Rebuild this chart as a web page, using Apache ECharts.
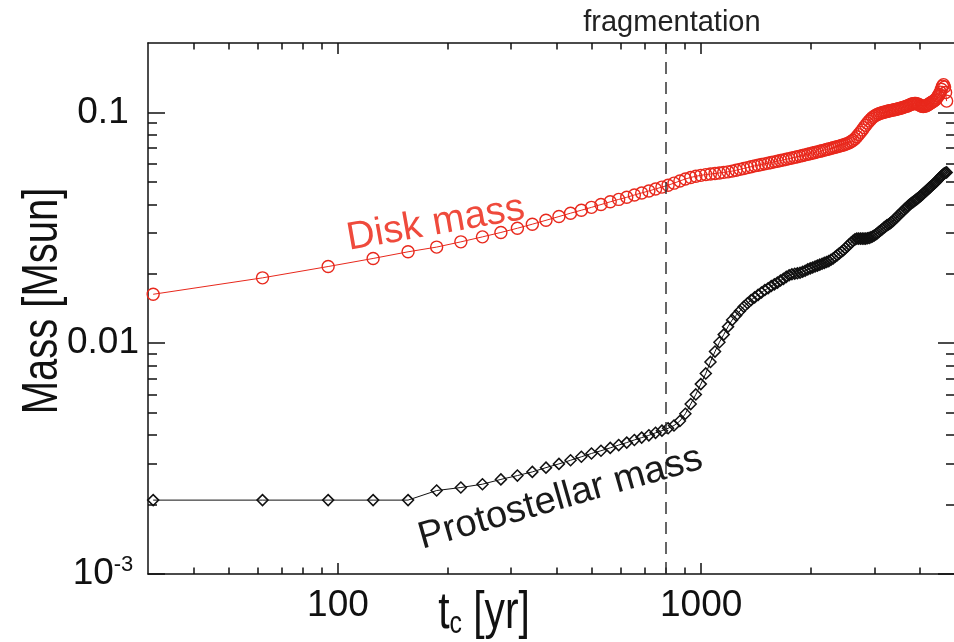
<!DOCTYPE html>
<html><head><meta charset="utf-8">
<script src="https://cdn.jsdelivr.net/npm/echarts@6/dist/echarts.min.js"></script>
<style>html,body{margin:0;padding:0;background:#fff}#c{width:954px;height:642px}</style>
</head><body><div id="c"></div>
<script>
// ---- data ----
const times = [
31,62,94,125,156,187,218,250,281,312,
343,374,406,437,468,499,530,562,593,624,
655,686,718,749,780,811,842,874,905,936,
967,998,1030,1061,1092,1123,1154,1186,1217,1248,
1279,1310,1342,1373,1404,1435,1466,1498,1529,1560,
1591,1622,1654,1685,1716,1747,1778,1810,1841,1872,
1903,1934,1966,1997,2028,2059,2090,2122,2153,2184,
2215,2246,2278,2309,2340,2371,2402,2434,2465,2496,
2527,2558,2590,2621,2652,2683,2714,2746,2777,2808,
2839,2870,2902,2933,2964,2995,3026,3058,3089,3120,
3151,3182,3214,3245,3276,3307,3338,3370,3401,3432,
3463,3494,3526,3557,3588,3619,3650,3682,3713,3744,
3775,3806,3838,3869,3900,3931,3962,3994,4025,4056,
4087,4118,4150,4181,4212,4243,4274,4306,4337,4368,
4399,4430,4462,4493,4524,4555,4586,4618,4649,4680,
4711,4742];

const diskMass = [
0.0163,0.0192,0.0215,0.0233,0.0249,0.0261,0.0275,0.0289,0.0302,0.0315,
0.0328,0.0341,0.0354,0.0366,0.0377,0.0388,0.0399,0.0410,0.0420,0.0429,
0.0439,0.0448,0.0457,0.0466,0.0475,0.0484,0.0494,0.0505,0.0515,0.0523,
0.0529,0.0534,0.0538,0.0541,0.0544,0.0547,0.0550,0.0553,0.0557,0.0562,
0.0567,0.0572,0.0577,0.0582,0.0587,0.0591,0.0595,0.0599,0.0603,0.0607,
0.0611,0.0615,0.0619,0.0623,0.0627,0.0631,0.0635,0.0639,0.0643,0.0647,
0.0651,0.0655,0.0659,0.0663,0.0667,0.0671,0.0675,0.0679,0.0683,0.0687,
0.0691,0.0695,0.0699,0.0703,0.0707,0.0711,0.0715,0.0719,0.0723,0.0728,
0.0733,0.0740,0.0748,0.0758,0.0770,0.0785,0.0802,0.0820,0.0840,0.0860,
0.0880,0.0900,0.0918,0.0935,0.0950,0.0962,0.0972,0.0980,0.0987,0.0993,
0.0998,0.1002,0.1006,0.1010,0.1014,0.1018,0.1021,0.1024,0.1027,0.1030,
0.1034,0.1038,0.1042,0.1046,0.1050,0.1055,0.1060,0.1065,0.1070,0.1076,
0.1082,0.1088,0.1092,0.1094,0.1093,0.1090,0.1085,0.1078,0.1070,0.1064,
0.1062,0.1063,0.1067,0.1073,0.1080,0.1088,0.1096,0.1104,0.1112,0.1120,
0.1130,0.1142,0.1158,0.1178,0.1200,0.1225,0.1260,0.1300,0.1320,0.1290,
0.1220,0.1120];

const protostellarMass = [
0.00209,0.00209,0.00209,0.00209,0.00209,0.00230,0.00237,0.00245,0.00257,0.00267,
0.00277,0.00289,0.00300,0.00311,0.00322,0.00333,0.00342,0.00352,0.00362,0.00371,
0.00381,0.00390,0.00399,0.00409,0.00418,0.00428,0.00440,0.00460,0.00495,0.00545,
0.00600,0.00665,0.00740,0.00830,0.00920,0.01010,0.01090,0.01180,0.01260,0.01320,
0.01380,0.01440,0.01490,0.01540,0.01580,0.01620,0.01660,0.01700,0.01730,0.01770,
0.01800,0.01830,0.01870,0.01900,0.01940,0.01970,0.01990,0.02000,0.02010,0.02020,
0.02040,0.02060,0.02090,0.02110,0.02130,0.02150,0.02170,0.02190,0.02210,0.02230,
0.02250,0.02270,0.02300,0.02330,0.02370,0.02410,0.02450,0.02490,0.02530,0.02580,
0.02630,0.02680,0.02730,0.02780,0.02820,0.02840,0.02840,0.02840,0.02840,0.02840,
0.02840,0.02850,0.02860,0.02880,0.02900,0.02930,0.02960,0.03000,0.03040,0.03080,
0.03120,0.03160,0.03200,0.03240,0.03270,0.03300,0.03340,0.03380,0.03430,0.03480,
0.03530,0.03580,0.03630,0.03680,0.03730,0.03780,0.03830,0.03880,0.03930,0.03980,
0.04020,0.04060,0.04100,0.04140,0.04180,0.04220,0.04260,0.04310,0.04350,0.04400,
0.04450,0.04500,0.04550,0.04600,0.04650,0.04700,0.04750,0.04800,0.04850,0.04900,
0.04950,0.05000,0.05060,0.05120,0.05180,0.05240,0.05300,0.05360,0.05410,0.05450,
0.05480,0.05500];

const xRange = [30, 5000];
const yRange = [0.001, 0.2];
const xMajorTicks = [100, 1000];
const xMinorTicks = [40,50,60,70,80,90,200,300,400,500,600,700,800,900,2000,3000,4000];
const yMajorTicks = [0.001, 0.01, 0.1];
const yMinorTicks = [0.002,0.003,0.004,0.005,0.006,0.007,0.008,0.009,0.02,0.03,0.04,0.05,0.06,0.07,0.08,0.09];
const xTickLabels = ['100', '1000'];
const yTickLabels = ['{b|10}{s|-3}', '0.01', '0.1'];
const xTitle = '{a|t}{c|c}{a| [yr]}';
const yTitle = 'Mass [Msun]';
const fragmentationTime = 800;
const fragmentationText = 'fragmentation';
const diskLabelAt = [186, 0.0330];
const starLabelAt = [410, 0.00213];

// ---- styling ----
const FONT = "'Liberation Sans', Arial, Helvetica, sans-serif";
const INK = '#111';
const RED = '#e8281c';

function pickLabel(values, labels, v) {
  for (let i = 0; i < values.length; i++) {
    if (Math.abs(v - values[i]) / values[i] < 1e-6) return labels[i];
  }
  return '';
}

function axisBase(type, pos, ticks, len, showLine) {
  return {
    type: 'log', logBase: 10, gridIndex: 0, position: pos,
    min: type === 'x' ? xRange[0] : yRange[0],
    max: type === 'x' ? xRange[1] : yRange[1],
    axisLine: { show: showLine, onZero: false, lineStyle: { color: INK, width: 1.5 } },
    axisTick: { show: true, inside: true, length: len, customValues: ticks, lineStyle: { color: INK, width: 1.5 } },
    axisLabel: { show: false },
    splitLine: { show: false },
    minorTick: { show: false },
    axisPointer: { show: false },
    silent: true
  };
}

const xBottom = axisBase('x', 'bottom', xMajorTicks, 11, true);
xBottom.axisLabel = {
  show: true, customValues: xMajorTicks, margin: 13,
  fontSize: 37, fontFamily: FONT, color: INK,
  formatter: v => pickLabel(xMajorTicks, xTickLabels, v)
};

const yLeft = axisBase('y', 'left', yMajorTicks, 17, true);
yLeft.axisLabel = {
  show: true, customValues: yMajorTicks, margin: 45, align: 'center',
  fontSize: 37, fontFamily: FONT, color: INK,
  formatter: v => pickLabel(yMajorTicks, yTickLabels, v),
  rich: {
    b: { fontSize: 37, fontFamily: FONT, color: INK, lineHeight: 40 },
    s: { fontSize: 22, fontFamily: FONT, color: INK, lineHeight: 22, verticalAlign: 'top' }
  }
};

const option = {
  animation: false,
  backgroundColor: '#fff',
  grid: { left: 148, top: 43, width: 807, height: 531, containLabel: false, outerBoundsMode: 'none' },
  xAxis: [
    xBottom,
    axisBase('x', 'bottom', xMinorTicks, 6.5, false),
    axisBase('x', 'top', xMajorTicks, 11, true),
    axisBase('x', 'top', xMinorTicks, 6.5, false)
  ],
  yAxis: [
    yLeft,
    axisBase('y', 'left', yMinorTicks, 9, false),
    axisBase('y', 'right', yMajorTicks, 17, true),
    axisBase('y', 'right', yMinorTicks, 9, false)
  ],
  graphic: [
    {
      type: 'text', x: 43, y: 301, rotation: Math.PI / 2, scaleX: 0.8, silent: true,
      style: { text: yTitle, font: "50px 'Liberation Sans', Arial, sans-serif", fill: INK, align: 'center', verticalAlign: 'middle' }
    },
    {
      type: 'text', x: 484, y: 614, scaleX: 0.8, silent: true,
      style: {
        text: xTitle, align: 'center', verticalAlign: 'middle', fill: INK,
        rich: {
          a: { fontSize: 51, fontFamily: FONT, fill: INK, lineHeight: 52 },
          c: { fontSize: 31, fontFamily: FONT, fill: INK, lineHeight: 31, verticalAlign: 'bottom' }
        }
      }
    }
  ],
  series: [
    {
      name: 'Disk mass', type: 'line', xAxisIndex: 0, yAxisIndex: 0,
      data: times.map((t, i) => [t, diskMass[i]]),
      symbol: 'circle', symbolSize: 12, showAllSymbol: true,
      itemStyle: { color: 'rgba(255,255,255,0)', borderColor: RED, borderWidth: 1.4 },
      lineStyle: { color: RED, width: 1 },
      emphasis: { disabled: true },
      markPoint: {
        silent: true, symbol: 'circle', symbolSize: 1,
        itemStyle: { color: 'rgba(0,0,0,0)' },
        label: { show: true, position: 'inside', rotate: 10, fontSize: 39, fontFamily: FONT, color: '#ef4a3c', formatter: 'Disk mass' },
        data: [{ coord: diskLabelAt }]
      }
    },
    {
      name: 'Protostellar mass', type: 'line', xAxisIndex: 0, yAxisIndex: 0,
      data: times.map((t, i) => [t, protostellarMass[i]]),
      symbol: 'diamond', symbolSize: 11, showAllSymbol: true,
      itemStyle: { color: 'rgba(255,255,255,0)', borderColor: '#111', borderWidth: 1.5 },
      lineStyle: { color: '#111', width: 1 },
      emphasis: { disabled: true },
      markPoint: {
        silent: true, symbol: 'circle', symbolSize: 1,
        itemStyle: { color: 'rgba(0,0,0,0)' },
        label: { show: true, position: 'inside', rotate: 16, fontSize: 38, fontFamily: FONT, color: '#1a1a1a', formatter: 'Protostellar mass' },
        data: [{ coord: starLabelAt }]
      },
      markLine: {
        silent: true, symbol: ['none', 'none'],
        lineStyle: { type: [12, 8], color: '#333', width: 1.5 },
        label: { show: true, position: 'end', distance: 6, offset: [6, 0], formatter: fragmentationText, fontSize: 29, fontFamily: FONT, color: '#222' },
        data: [{ xAxis: fragmentationTime }]
      }
    }
  ]
};

const chart = echarts.init(document.getElementById('c'), null, { renderer: 'canvas' });
chart.setOption(option);
</script>
</body></html>
